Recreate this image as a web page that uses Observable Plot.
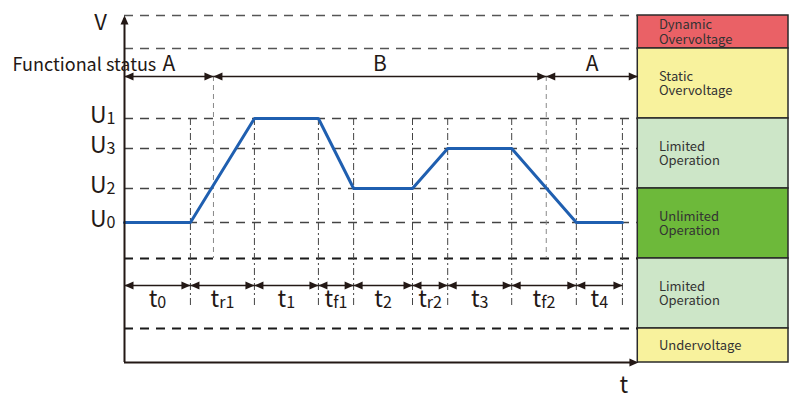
<!DOCTYPE html>
<html>
<head>
<meta charset="utf-8">
<script src="https://cdn.jsdelivr.net/npm/d3@7"></script>
<script src="https://cdn.jsdelivr.net/npm/@observablehq/plot@0.6"></script>
<style>
  html, body { margin: 0; padding: 0; background: #fff; }
  #chart svg { display: block; }
</style>
</head>
<body>
<div id="chart"></div>
<script>
// ---------- data (schematic units: time t, voltage V) ----------
const timeBreaks   = [0, 10.3, 20.3, 30.3, 35.8, 45.0, 50.5, 60.5, 70.6, 77.8];
const voltageTrace = [14.0, 14.0, 24.4, 24.4, 17.4, 17.4, 21.4, 21.4, 14.0, 14.0];
const periodLabels = ["t_0", "t_r1", "t_1", "t_f1", "t_2", "t_r2", "t_3", "t_f2", "t_4"];

const levelLabels  = ["U_1", "U_3", "U_2", "U_0"];
const levelValues  = [24.4, 21.4, 17.4, 14.0];
const upperGrid    = [34.7, 31.4];
const zoneGrid     = [10.4, 3.4];

const statusBreaks = [0, 13.9, 65.9, 80.2];
const statusLabels = ["A", "B", "A"];

const bandNames = ["Dynamic\nOvervoltage", "Static\nOvervoltage", "Limited\nOperation",
                   "Unlimited\nOperation", "Limited\nOperation", "Undervoltage"];
const bandLow   = [31.4, 24.4, 17.4, 10.4, 3.4, 0];
const bandHigh  = [34.7, 31.4, 24.4, 17.4, 10.4, 3.4];
const bandKinds = ["dyn", "static", "limited", "unlimited", "limited", "under"];

// ---------- derived tables ----------
const xMax = 103.75, yMax = 34.7, tEnd = 80.2, bandX1 = 80.2;
const trace = timeBreaks.map((t, i) => ({t, v: voltageTrace[i]}));
const periods = periodLabels.map((label, i) => ({label, t1: timeBreaks[i], t2: timeBreaks[i + 1], tm: (timeBreaks[i] + timeBreaks[i + 1]) / 2}));
const levels = levelLabels.map((label, i) => ({label, v: levelValues[i]}));
const status = statusLabels.map((label, i) => ({label, t1: statusBreaks[i], t2: statusBreaks[i + 1], tm: (statusBreaks[i] + statusBreaks[i + 1]) / 2}));
const bands = bandNames.map((name, i) => ({name, kind: bandKinds[i], lo: bandLow[i], hi: bandHigh[i]}));

const periodY = 7.7, statusY = 28.6, periodLabelY = 5.6, vTopTick = 24.4, vBottom = 5.4;

// filled arrow head, tip at origin, pointing up
const head = {draw(ctx) { ctx.moveTo(0, 0); ctx.lineTo(-4, 9); ctx.lineTo(4, 9); ctx.closePath(); }};

const rightHeads = (data, xf, y) => Plot.dot(data, {x: xf, y, symbol: head, r: 3, rotate: 90, fill: "#231815", stroke: null});
const leftHeads  = (data, xf, y) => Plot.dot(data, {x: xf, y, symbol: head, r: 3, rotate: -90, fill: "#231815", stroke: null});

const chart = Plot.plot({
  width: 800, height: 411,
  marginLeft: 124, marginRight: 12, marginTop: 15, marginBottom: 49,
  x: {domain: [0, xMax], axis: null},
  y: {domain: [0, yMax], axis: null},
  color: {domain: ["dyn", "static", "limited", "unlimited", "under"],
          range: ["#ea6166", "#f8f29d", "#cde6c8", "#6db93a", "#f8f29d"]},
  style: {fontFamily: "'Noto Sans CJK JP', 'Noto Sans', sans-serif", background: "#fff", overflow: "visible"},
  marks: [
    // bands
    Plot.rect(bands, {x1: bandX1, x2: xMax, y1: "lo", y2: "hi", fill: "kind", stroke: "#2a2a2a", strokeWidth: 1.5}),
    Plot.text(bands, {x: bandX1 + 3.3, y: d => (d.lo + d.hi) / 2, text: "name", textAnchor: "start", lineAnchor: "middle", lineHeight: 1.12, fontSize: 13, fill: "#333"}),
    // horizontal dashed grid
    Plot.ruleY(upperGrid, {x1: 0, x2: tEnd, stroke: "#555", strokeWidth: 1.4, strokeDasharray: "9,7"}),
    Plot.ruleY(levelValues, {x1: 0, x2: tEnd, stroke: "#444", strokeWidth: 1.5, strokeDasharray: "9,7"}),
    Plot.ruleY(zoneGrid, {x1: 0, x2: tEnd, stroke: "#1a1a1a", strokeWidth: 2, strokeDasharray: "9,7"}),
    // vertical dash-dot time boundaries
    Plot.ruleX(timeBreaks.slice(1), {y1: vTopTick, y2: vBottom, stroke: "#444", strokeWidth: 1, strokeDasharray: "7,3,2,3"}),
    // functional status boundaries
    Plot.ruleX(statusBreaks.slice(1, 3), {y1: statusY, y2: 10.4, stroke: "#888", strokeWidth: 1, strokeDasharray: "5,4"}),
    // voltage trace
    Plot.line(trace, {x: "t", y: "v", stroke: "#1f5fb0", strokeWidth: 3, strokeLinejoin: "miter"}),
    // period arrows
    Plot.link(periods, {x1: "t1", x2: "t2", y1: periodY, y2: periodY, stroke: "#231815", strokeWidth: 1.5}),
    leftHeads(periods, "t1", periodY),
    rightHeads(periods, "t2", periodY),
    Plot.text(periods, {x: "tm", y: periodLabelY, text: "label", lineAnchor: "bottom", fontSize: 23, fill: "#231815", className: "subs"}),
    // functional status arrows
    Plot.link(status, {x1: "t1", x2: "t2", y1: statusY, y2: statusY, stroke: "#231815", strokeWidth: 1.5}),
    leftHeads(status, "t1", statusY),
    rightHeads(status, "t2", statusY),
    Plot.text(status, {x: "tm", y: statusY, dy: -6, text: "label", lineAnchor: "bottom", fontSize: 21, fill: "#231815"}),
    Plot.text(["Functional status"], {x: 0, y: statusY, dx: -112, dy: -6, text: d => d, textAnchor: "start", lineAnchor: "bottom", fontSize: 18, fill: "#231815"}),
    // axes
    Plot.ruleX([0], {y1: 0, y2: yMax - 0.3, stroke: "#231815", strokeWidth: 2}),
    Plot.ruleY([0], {x1: 0, x2: tEnd - 0.3, stroke: "#231815", strokeWidth: 2}),
    Plot.dot([0], {x: 0, y: yMax, symbol: head, r: 3, rotate: 0, fill: "#231815", stroke: null}),
    Plot.dot([0], {x: tEnd + 0.1, y: 0, symbol: head, r: 3, rotate: 90, fill: "#231815", stroke: null}),
    Plot.text(["V"], {x: 0, y: yMax, dx: -24, dy: 7, text: d => d, lineAnchor: "middle", fontSize: 22, fill: "#231815"}),
    Plot.text(["t"], {x: tEnd, y: 0, dx: -14, dy: 30, text: d => d, lineAnchor: "bottom", fontSize: 23, fill: "#231815"}),
    // level labels
    Plot.text(levels, {x: 0, y: "v", dx: -9, dy: 4, text: "label", textAnchor: "end", lineAnchor: "bottom", fontSize: 23, fill: "#231815", className: "subs"})
  ]
});

// turn "x_y" labels into base + subscript
chart.querySelectorAll("g.subs text").forEach(t => {
  const s = t.textContent;
  if (!s.includes("_")) return;
  const [a, b] = s.split("_");
  t.textContent = "";
  const ns = "http://www.w3.org/2000/svg";
  const t1 = document.createElementNS(ns, "tspan"); t1.textContent = a;
  const t2 = document.createElementNS(ns, "tspan"); t2.textContent = b;
  t2.setAttribute("font-size", "0.7em");
  t2.setAttribute("dy", "0.08em");
  t.appendChild(t1); t.appendChild(t2);
});

document.getElementById("chart").appendChild(chart);
</script>
</body>
</html>
